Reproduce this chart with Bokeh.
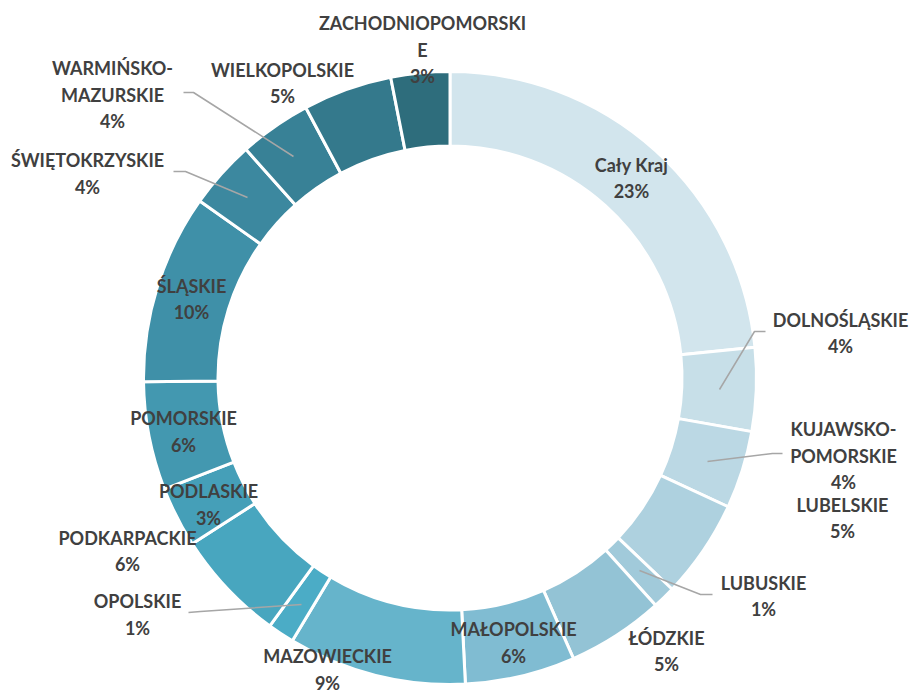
import math
from bokeh.plotting import figure
from bokeh.models import Range1d, ColumnDataSource
from bokeh.core.properties import value
from bokeh.embed import file_html
from bokeh.resources import INLINE

# ---- data ----
regions = ["Cały Kraj", "DOLNOŚLĄSKIE", "KUJAWSKO-POMORSKIE", "LUBELSKIE", "LUBUSKIE",
           "ŁÓDZKIE", "MAŁOPOLSKIE", "MAZOWIECKIE", "OPOLSKIE", "PODKARPACKIE",
           "PODLASKIE", "POMORSKIE", "ŚLĄSKIE", "ŚWIĘTOKRZYSKIE", "WARMIŃSKO-MAZURSKIE",
           "WIELKOPOLSKIE", "ZACHODNIOPOMORSKIE"]
shares = [23.4, 4.4, 4.1, 5.2, 1.2, 5.1, 5.8, 9.4, 1.4, 5.9, 3.2, 5.7, 10.0, 3.6, 3.8, 4.7, 3.1]

# ---- style / layout ----
colors = ["#d2e5ed", "#c7dfe8", "#bbd8e4", "#aed1df", "#a1cada", "#93c3d5", "#80bcd2",
          "#66b4cb", "#4bacc6", "#48a6bf", "#459fb8", "#4398b0", "#3f90a8", "#3c889f",
          "#388196", "#34798c", "#2e6d7c"]
wrap = {"KUJAWSKO-POMORSKIE": ["KUJAWSKO-", "POMORSKIE"],
        "WARMIŃSKO-MAZURSKIE": ["WARMIŃSKO-", "MAZURSKIE"],
        "ZACHODNIOPOMORSKIE": ["ZACHODNIOPOMORSKI", "E"]}
# label block centres in page pixels
label_pos = {"Cały Kraj": (631, 177.5), "DOLNOŚLĄSKIE": (840, 332.5),
             "KUJAWSKO-POMORSKIE": (843, 455), "LUBELSKIE": (842, 517.5),
             "LUBUSKIE": (763, 595.5), "ŁÓDZKIE": (666, 650.5), "MAŁOPOLSKIE": (513, 642),
             "MAZOWIECKIE": (327, 669), "OPOLSKIE": (137, 614), "PODKARPACKIE": (127, 550.5),
             "PODLASKIE": (208, 504), "POMORSKIE": (183, 431), "ŚLĄSKIE": (191, 298.5),
             "ŚWIĘTOKRZYSKIE": (87, 173), "WARMIŃSKO-MAZURSKIE": (112, 94),
             "WIELKOPOLSKIE": (282, 82.5), "ZACHODNIOPOMORSKIE": (422, 49)}
leaders = [
    [(719, 389), (754, 331), (765, 331)],
    [(707, 461), (772, 453), (782, 453)],
    [(639, 570), (700, 594), (712, 594)],
    [(301, 604), (200, 611), (188, 612)],
    [(293, 156), (193, 92), (183, 92)],
    [(247, 197), (185, 171), (173, 171)],
]

W, H = 911, 693
def px(x):
    return x
def py(y):
    return H - y

cx, cy = px(449.5), py(377.5)
r_out, r_in = 306.5, 232.0
line_gap = 26.5

p = figure(width=W, height=H, output_backend="svg", toolbar_location=None,
           x_range=Range1d(0, W), y_range=Range1d(0, H),
           x_axis_location=None, y_axis_location=None, min_border=0)
p.outline_line_color = None
p.xgrid.visible = False
p.ygrid.visible = False
p.background_fill_color = "white"
p.border_fill_color = "white"

total = sum(shares)
starts, ends = [], []
acc = 0.0
for v in shares:
    starts.append(math.pi / 2 - 2 * math.pi * acc / total)
    acc += v
    ends.append(math.pi / 2 - 2 * math.pi * acc / total)

src = ColumnDataSource(dict(x=[cx] * len(shares), y=[cy] * len(shares),
                            start=starts, end=ends, color=colors))
p.annular_wedge(x="x", y="y", inner_radius=r_in, outer_radius=r_out,
                start_angle="start", end_angle="end", direction="clock",
                fill_color="color", line_color="white", line_width=3, source=src)

p.multi_line(xs=[[px(a) for a, b in L] for L in leaders],
             ys=[[py(b) for a, b in L] for L in leaders],
             line_color="#a6a6a6", line_width=1.5)

tx, ty, tt = [], [], []
for name, v in zip(regions, shares):
    lines = wrap.get(name, [name]) + [f"{round(v)}%"]
    lx, ly = label_pos[name]
    n = len(lines)
    for i, s in enumerate(lines):
        tx.append(px(lx))
        ty.append(py(ly + (i - (n - 1) / 2) * line_gap))
        tt.append(s)
p.text(x=tx, y=ty, text=tt, text_align="center", text_baseline="middle",
       text_font=value("Lato"), text_font_style="bold", text_font_size="18px",
       text_color="#404040")

open("out.html", "w").write(file_html(p, INLINE))
